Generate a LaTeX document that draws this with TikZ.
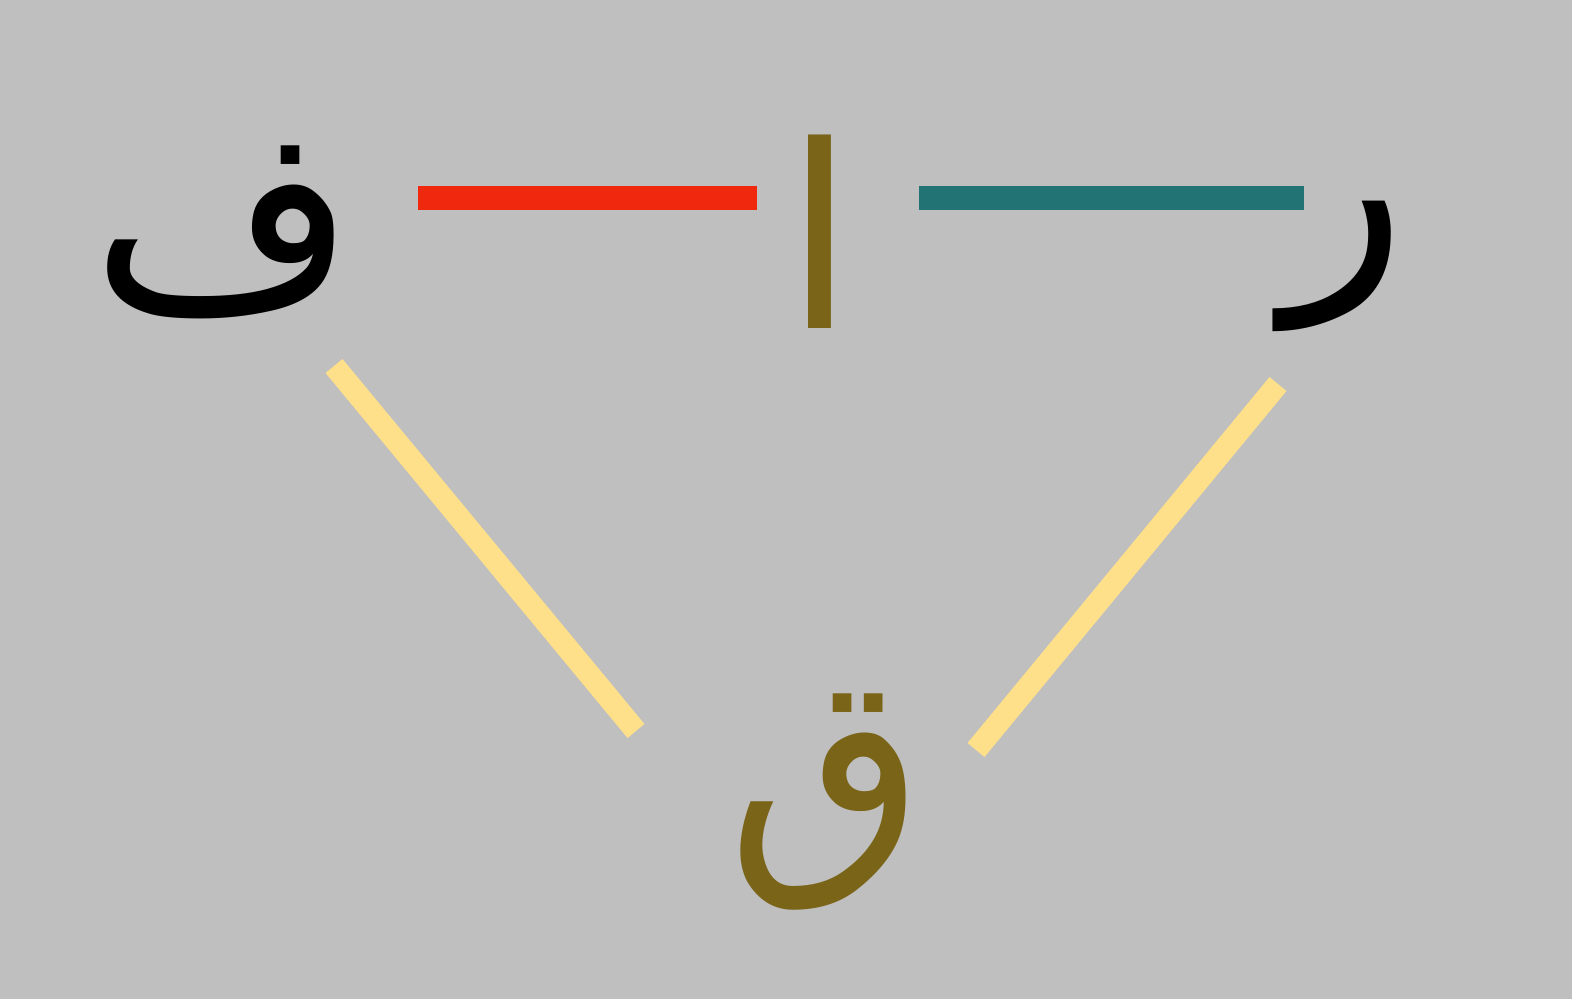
\documentclass[tikz,border=0pt]{standalone}
\usepackage{fontspec}
\newfontfamily\arabicfont[Script=Arabic]{DejaVu Sans}
\TeXXeTstate=1
\usepackage{tikz}
\usepackage{color}

\definecolor{bggrey}{HTML}{BFBFBF}
\definecolor{olive}{HTML}{7A6418}
\definecolor{redbar}{HTML}{F0290E}
\definecolor{tealbar}{HTML}{227373}
\definecolor{yellowbar}{HTML}{FFE08A}

\tikzset{
  letter/.style={inner sep=0pt, font=\fontsize{145pt}{160pt}\arabicfont},
  bar/.style={line width=14pt},
  slant/.style={line width=12.5pt}
}

\begin{document}
\begin{tikzpicture}[x=0.02cm,y=-0.02cm]

\fill[bggrey] (0,0) rectangle (1572,999);

\node[letter] (fa) at (224,232) {\beginR ف\endR};
\node[letter,text=olive] (alif) at (820,232) {\beginR ا\endR};
\node[letter] (ra) at (1345,266) {\beginR ر\endR};
\node[letter,text=olive] (qaf) at (826,802) {\beginR ق\endR};

\coordinate (fa e) at (418,198);
\coordinate (alif w) at (757,198);
\coordinate (alif e) at (919,198);
\coordinate (ra w) at (1304,198);
\coordinate (fa s) at (334,366);
\coordinate (qaf nw) at (636,731);
\coordinate (ra s) at (1278,384);
\coordinate (qaf ne) at (976,750);

\draw[bar,redbar] (fa e) -- (alif w);
\draw[bar,tealbar] (alif e) -- (ra w);
\draw[slant,yellowbar] (fa s) -- (qaf nw);
\draw[slant,yellowbar] (ra s) -- (qaf ne);

\end{tikzpicture}
\end{document}
